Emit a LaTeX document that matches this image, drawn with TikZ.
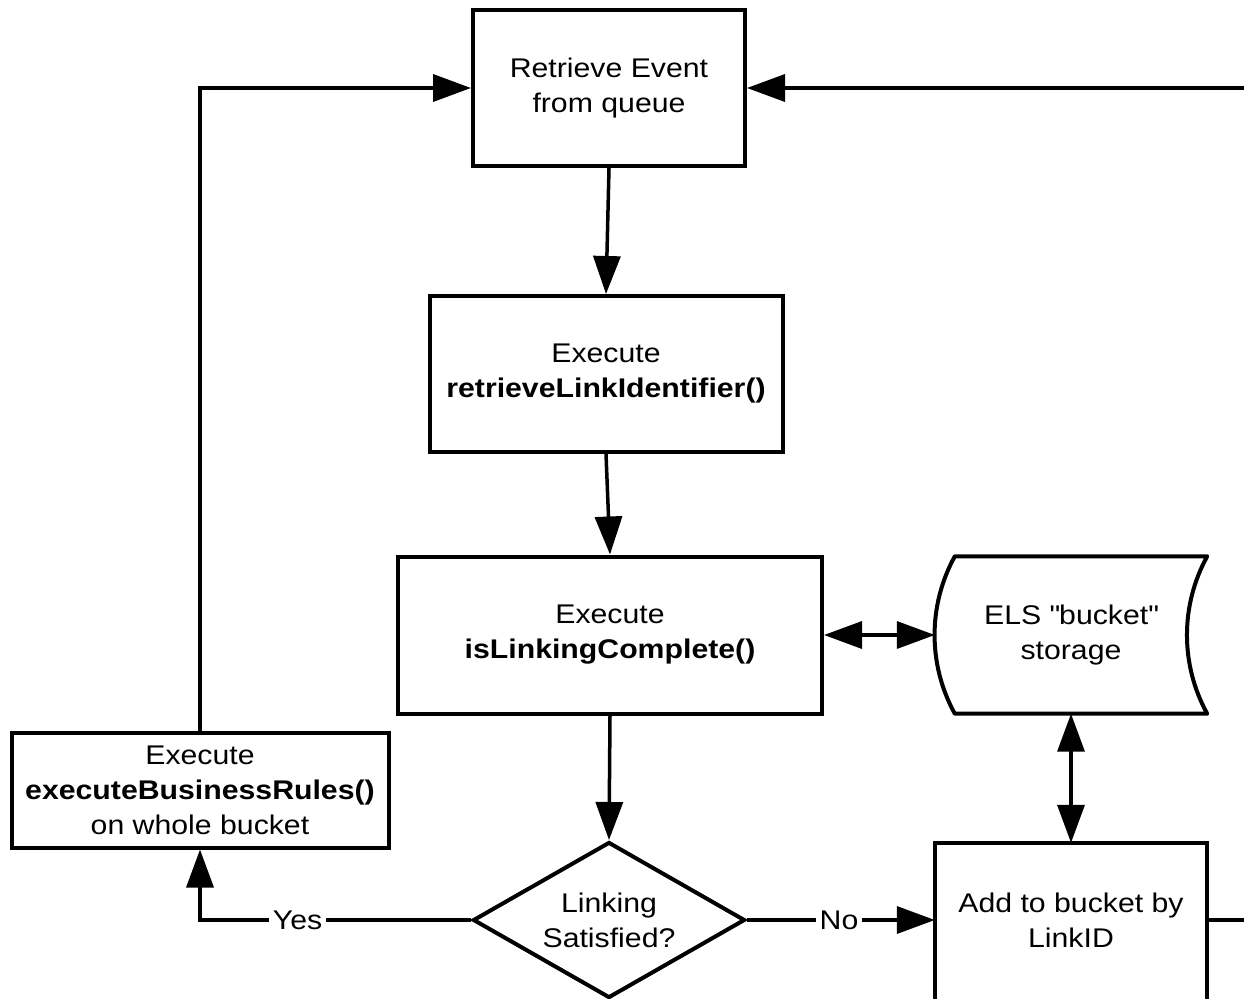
\documentclass[tikz,border=0pt]{standalone}
\usepackage{fontspec}
\setmainfont[FakeStretch=1.12]{Liberation Sans}
\usetikzlibrary{arrows.meta,shapes.geometric}
\begin{document}
\begin{tikzpicture}[x=1pt,y=-1pt,
  every node/.style={font=\fontsize{27}{35}\selectfont, align=center},
  box/.style={draw, line width=4pt, inner sep=0pt},
  conn/.style={line width=3.5pt, -{Triangle[length=38pt,width=27pt]}},
  dconn/.style={line width=3.5pt, {Triangle[length=38pt,width=27pt]}-{Triangle[length=38pt,width=27pt]}},
  lab/.style={fill=white, inner sep=4pt, font=\fontsize{27}{35}\selectfont}]
\useasboundingbox (0,0) rectangle (1244,998);
\clip (0,0) rectangle (1244,998);

\node[box, minimum width=272pt, minimum height=156pt] (n1) at (609,88) {Retrieve Event\\from queue};
\node[box, minimum width=353pt, minimum height=156pt] (n2) at (606,374) {Execute\\\textbf{retrieveLinkIdentifier()}};
\node[box, minimum width=424pt, minimum height=157pt] (n3) at (610,635) {Execute\\\textbf{isLinkingComplete()}};
\node[box, minimum width=377pt, minimum height=115pt] (biz) at (200,790) {Execute\\\textbf{executeBusinessRules()}\\on whole bucket};
\node[draw, diamond, line width=4pt, inner sep=0pt, aspect=1.74, minimum width=272pt, minimum height=156pt] (dec) at (609,920) {Linking\\Satisfied?};

% storage
\node[minimum width=272pt, minimum height=157pt, inner sep=0pt] (store) at (1071,635) {ELS \textquotedbl bucket\textquotedbl\\storage};
\draw[line width=4pt, line join=round]
  ([xshift=20pt]store.north west) -- (store.north east)
  .. controls ([xshift=-27pt,yshift=-49pt]store.north east) and ([xshift=-27pt,yshift=49pt]store.south east) .. (store.south east)
  -- ([xshift=20pt]store.south west)
  .. controls ([xshift=-7pt,yshift=49pt]store.south west) and ([xshift=-7pt,yshift=-49pt]store.north west) .. ([xshift=20pt]store.north west) -- cycle;

% add to bucket
\node[minimum width=272pt, minimum height=154pt, inner sep=0pt] (add) at (1071,920) {Add to bucket by\\LinkID};
\draw[line width=4pt] ([yshift=-40pt]add.south west) rectangle (add.north east);

\coordinate (rt) at (1270,88);

% connectors
\draw[conn] (n1.south) -- (n2.north);
\draw[conn] (n2.south) -- (n3.north);
\draw[conn] (n3.south) -- (dec.north);
\draw[dconn] (n3.east) -- (store.west);
\draw[dconn] (store.south) -- (add.north);
\draw[conn] (dec.west) -| node[lab, pos=0.32] {Yes} (biz.south);
\draw[conn] (dec.east) -- node[lab, pos=0.49] {No} (add.west);
\draw[conn] (biz.north) |- (n1.west);
\draw[conn] (add.east) -| (rt) -- (n1.east);
\end{tikzpicture}
\end{document}
